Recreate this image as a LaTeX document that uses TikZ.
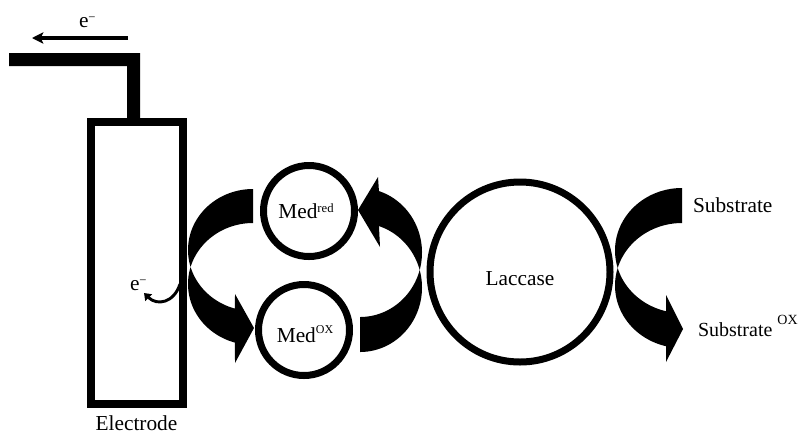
\documentclass[tikz,border=0pt]{standalone}
\usepackage{fontspec}
\setmainfont{LiberationSerif}[Extension=.ttf, UprightFont=*-Regular, BoldFont=*-Bold]
\usetikzlibrary{arrows.meta}
% raised small text: [#1] = size, #2 = lift, #3 = text
\newcommand{\upsmall}[3][9.5]{\raisebox{#2}{\fontsize{#1}{#1}\selectfont #3}}

\begin{document}
\begin{tikzpicture}[x=0.75pt,y=-0.75pt,
  every node/.style={inner sep=0pt, outer sep=0pt},
  lbl/.style={font=\fontsize{16}{19}\selectfont},
  ring/.style={circle, draw, line width=5.25pt, minimum size=#1},
  wire/.style={line width=2.5pt, -{Stealth[length=8.5pt,width=8.5pt,inset=2pt]}},
  smallarrow/.style={line width=2.2pt, -{Triangle[length=5pt,width=7pt]}},
  band/.style={fill=black}]
\useasboundingbox (0,0) rectangle (802,433);

% electrode body and its lead
\node[draw, line width=5.8pt, minimum width=69pt, minimum height=211.5pt] (electrode) at (137,263) {};
\fill (9,53) -- (140,53) -- (140,119) -- (127,119) -- (127,66) -- (9,66) -- cycle;

% electron flow along the lead
\coordinate (leadA) at (128,38);
\coordinate (leadB) at (32,38);
\draw[wire] (leadA) -- (leadB);
\node[lbl, anchor=base west] (etop) at (79,27) {e\upsmall{4.5pt}{−}};

% electron handed to the electrode
\coordinate (eA) at (180,284);
\coordinate (eB) at (144,293);
\draw[smallarrow] (eA) .. controls (174,303) and (157,306) .. (eB);
\node[lbl, anchor=base west] (ein) at (130,290) {e\upsmall{4.5pt}{−}};

% mediator and enzyme
\node[ring=68.25pt] (medred) at (309,211) {};
\node[ring=68.25pt] (medox) at (304,330) {};
\node[ring=135pt] (laccase) at (520,272) {};
\node[lbl, anchor=base] (tred) at (306,218) {Med\upsmall{4.5pt}{red}};
\node[lbl, anchor=base] (tox) at (305,342) {Med\upsmall[9]{6.5pt}{OX}};
\node[lbl, anchor=base] (tlac) at (520,285) {Laccase};
\node[lbl, anchor=base] (tel) at (136.5,430) {Electrode};
\node[lbl, anchor=base west] (tsub) at (693,212) {Substrate};
\node[font=\fontsize{15}{18}\selectfont, anchor=base west] (tsubox) at (698,336) {Substrate \upsmall[10.5]{9pt}{OX}};

% curved band: Med red -> electrode -> Med ox
\fill[band]
  plot[domain=270:163.8, samples=60] ({253+65*cos(\x)},{250+61*sin(\x)})
  -- plot[domain=196.2:106.1, samples=60] ({253+65*cos(\x)},{284+61*sin(\x)})
  -- (235,363) -- (254,328) -- (235,294)
  -- plot[domain=106.1:163.8, samples=40] ({253+65*cos(\x)},{250+61*sin(\x)})
  -- plot[domain=196.2:270, samples=40] ({253+65*cos(\x)},{284+61*sin(\x)})
  -- cycle;

% curved band: Med ox -> laccase -> Med red
\fill[band]
  plot[domain=90:15.74, samples=40] ({360+62*cos(\x)},{252.5+64.5*sin(\x)})
  -- plot[domain=-15.74:-72.2, samples=40] ({360+62*cos(\x)},{287.5+64.5*sin(\x)})
  -- (380,247) -- (358,210) -- (378,177)
  -- plot[domain=-72.2:15.74, samples=60] ({360+62*cos(\x)},{252.5+64.5*sin(\x)})
  -- plot[domain=-15.74:90, samples=60] ({360+62*cos(\x)},{287.5+64.5*sin(\x)})
  -- cycle;

% curved band: substrate -> laccase -> oxidised substrate
\fill[band]
  plot[domain=270:163.8, samples=60] ({682+67*cos(\x)},{250.5+62.5*sin(\x)})
  -- plot[domain=196.2:103.8, samples=60] ({682+67*cos(\x)},{285.5+62.5*sin(\x)})
  -- (666,362) -- (683,329) -- (666,295)
  -- plot[domain=103.8:163.8, samples=40] ({682+67*cos(\x)},{250.5+62.5*sin(\x)})
  -- plot[domain=196.2:270, samples=40] ({682+67*cos(\x)},{285.5+62.5*sin(\x)})
  -- cycle;
\end{tikzpicture}
\end{document}
